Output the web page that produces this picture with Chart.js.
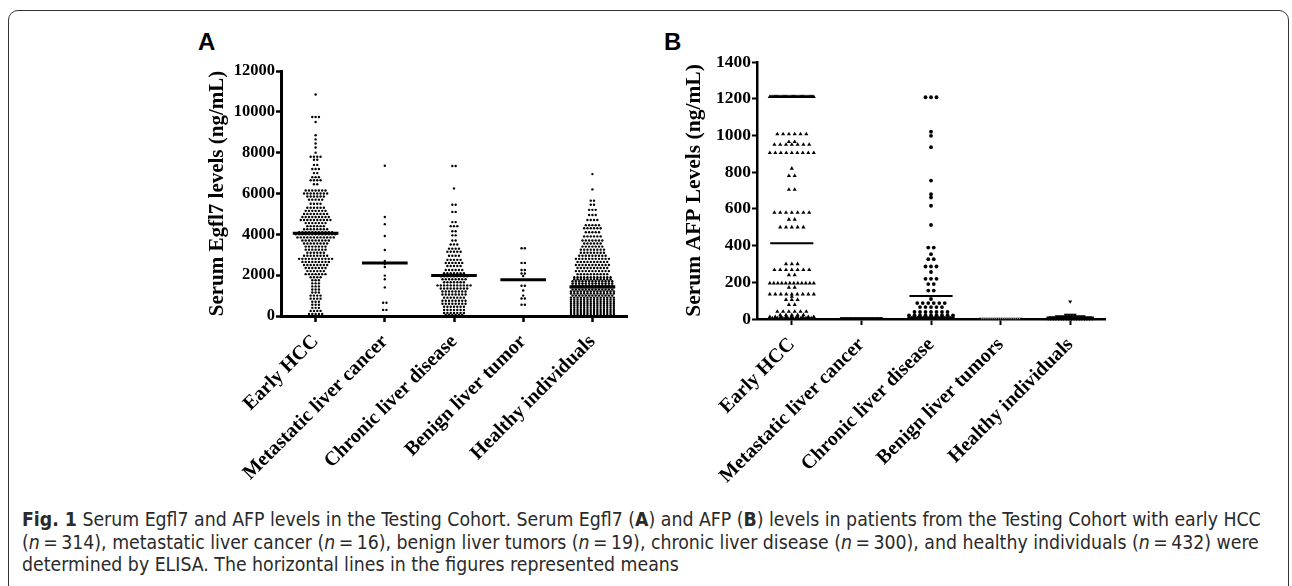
<!DOCTYPE html>
<html lang="en">
<head>
<meta charset="UTF-8">
<title>Fig. 1 Serum Egfl7 and AFP levels in the Testing Cohort</title>
<style>
  body { margin: 0; background: #fff; width: 1292px; height: 586px; overflow: hidden; position: relative; }
  .frame { position: absolute; left: 8px; top: 10px; width: 1279px; height: 640px; border: 1.5px solid #333; border-radius: 10px; }
  .panel { position: absolute; top: 30px; font-family: "Liberation Sans", Arial, sans-serif; font-weight: bold; font-size: 24px; line-height: 24px; color: #000; }
  canvas { position: absolute; }
  .caption { position: absolute; left: 22px; top: 509px; white-space: nowrap; font-family: "Liberation Sans Narrow", "DejaVu Sans Condensed", sans-serif; font-size: 19.3px; line-height: 22.5px; color: #2a2a2a; }
</style>
</head>
<body>
<div class="frame"></div>
<div class="panel" style="left:198px">A</div>
<div class="panel" style="left:664px">B</div>
<canvas id="chartA" width="460" height="440" style="left:180px; top:50px"></canvas>
<canvas id="chartB" width="460" height="440" style="left:660px; top:50px"></canvas>
<div class="caption"><b>Fig. 1</b> Serum Egfl7 and AFP levels in the Testing Cohort. Serum Egfl7 (<b>A</b>) and AFP (<b>B</b>) levels in patients from the Testing Cohort with early HCC<br>(<i>n</i>&thinsp;=&thinsp;314), metastatic liver cancer (<i>n</i>&thinsp;=&thinsp;16), benign liver tumors (<i>n</i>&thinsp;=&thinsp;19), chronic liver disease (<i>n</i>&thinsp;=&thinsp;300), and healthy individuals (<i>n</i>&thinsp;=&thinsp;432) were<br>determined by ELISA. The horizontal lines in the figures represented means</div>

<script src="https://cdn.jsdelivr.net/npm/chart.js"></script>
<script>
// categories
const groupsA = ['Early HCC', 'Metastatic liver cancer', 'Chronic liver disease', 'Benign liver tumor', 'Healthy individuals'];
const groupsB = ['Early HCC', 'Metastatic liver cancer', 'Chronic liver disease', 'Benign liver tumors', 'Healthy individuals'];
const ticksA = [0, 2000, 4000, 6000, 8000, 10000, 12000];
const ticksB = [0, 200, 400, 600, 800, 1000, 1200, 1400];

// each row: [value, number of dots sitting at that value]
// panel A - Egfl7 (ng/mL)
const egflEarlyHcc = [
  [10850, 1], [9750, 3], [9500, 1], [8850, 1], [8650, 1], [8450, 1], [8250, 1], [8000, 1],
  [7800, 4], [7650, 2], [7400, 2], [7200, 3], [7000, 2], [6800, 3], [6650, 4], [6450, 2],
  [6150, 7], [6000, 8], [5850, 6], [5700, 5], [5500, 4], [5300, 6], [5150, 7], [5000, 8],
  [4850, 9], [4700, 10], [4550, 7], [4400, 6], [4250, 8], [4100, 11], [4000, 13], [3850, 12],
  [3700, 9], [3550, 8], [3400, 7], [3250, 7], [3100, 6], [2950, 8], [2800, 11], [2650, 9],
  [2500, 8], [2350, 7], [2200, 6], [2050, 7], [1900, 4], [1750, 3], [1600, 3], [1450, 3],
  [1300, 3], [1150, 3], [1000, 4], [850, 4], [700, 3], [550, 3], [400, 3], [250, 4], [100, 5]
];
const egflMetastatic = [
  [7360, 1], [4850, 1], [4500, 1], [3920, 1], [3230, 1], [2700, 1], [2550, 1], [2400, 1],
  [1980, 1], [1800, 1], [1400, 1], [650, 2], [300, 2]
];
const egflChronic = [
  [7350, 2], [6250, 1], [5450, 2], [5100, 2], [4600, 2], [4400, 3], [4150, 2], [3950, 2],
  [3700, 2], [3500, 3], [3300, 4], [3150, 5], [2950, 4], [2750, 5], [2600, 6], [2450, 5],
  [2250, 6], [2100, 7], [1950, 9], [1800, 8], [1650, 7], [1500, 11], [1350, 9], [1200, 8],
  [1050, 8], [900, 7], [750, 8], [600, 8], [450, 7], [300, 7], [150, 7], [50, 6]
];
const egflBenign = [
  [3320, 2], [2600, 2], [2250, 2], [2080, 2], [1960, 1], [1480, 2], [1250, 1], [1000, 1],
  [860, 2], [550, 2]
];
const egflHealthy = [
  [6950, 1], [6200, 1], [5650, 2], [5450, 2], [5200, 3], [4950, 3], [4700, 4], [4450, 5],
  [4300, 6], [4100, 5], [3900, 6], [3700, 7], [3550, 6], [3400, 7], [3250, 8], [3100, 8],
  [2950, 9], [2800, 11], [2650, 10], [2500, 11], [2350, 10], [2200, 11], [2050, 10], [1900, 12],
  [1800, 12], [1700, 13], [1600, 13], [1500, 13], [1400, 14], [1300, 13], [1200, 14], [1100, 14],
  [1000, 13], [900, 14], [800, 14], [700, 14], [600, 14], [500, 14], [400, 14], [300, 14],
  [200, 14], [100, 14], [20, 14]
];
const egflMeans = [4050, 2600, 1980, 1780, 1430];

// panel B - AFP (ng/mL)
const afpEarlyHcc = [
  [1210, 40], [1007, 6], [965, 2], [950, 7], [905, 9], [820, 1], [780, 2], [705, 2],
  [580, 7], [542, 2], [500, 5], [300, 3], [268, 7], [240, 2], [195, 12], [172, 2],
  [135, 9], [122, 1], [105, 3], [78, 2], [40, 6], [22, 5], [12, 9], [4, 18]
];
const afpMetastatic = [[4, 16]];
const afpChronic = [
  [1208, 3], [1020, 1], [998, 1], [936, 1], [754, 1], [680, 1], [662, 1], [617, 1],
  [512, 1], [389, 2], [353, 1], [326, 2], [286, 3], [256, 1], [219, 3], [190, 2],
  [155, 2], [109, 1], [87, 6], [65, 5], [38, 7], [20, 9], [6, 16]
];
const afpBenign = [[2, 19]];
const afpHealthy = [[95, 1], [22, 4], [14, 10], [7, 16], [2, 18]];
const afpMeans = [412, 4, 125, 1, 8];

const serif = '"Liberation Serif", "Times New Roman", serif';

// spread the dots of a row sideways around the category centre (scatter dot plot)
function swarm(rows, cat, gapPx, maxPx, pxPerUnit) {
  const pts = [];
  rows.forEach(([v, n]) => {
    const gap = n > 1 ? Math.min(gapPx, maxPx / (n - 1)) : 0;
    for (let k = 0; k < n; k++) {
      pts.push({ x: cat + (k - (n - 1) / 2) * gap / pxPerUnit, y: v });
    }
  });
  return pts;
}

function meanLines(means, half, width) {
  return means.map((m, i) => ({
    data: [{ x: i - half, y: m }, { x: i + half, y: m }],
    showLine: true, borderColor: '#000', borderWidth: width, pointRadius: 0, clip: false
  }));
}

function dots(data, style) {
  return Object.assign({ data: data, backgroundColor: '#000', borderColor: '#000', borderWidth: 0, clip: false }, style);
}

function makeChart(id, cats, yTicks, datasets, cfg) {
  new Chart(document.getElementById(id), {
    type: 'scatter',
    data: { datasets: datasets },
    options: {
      responsive: false,
      animation: false,
      devicePixelRatio: 1,
      layout: { padding: { left: 0, top: cfg.top, right: cfg.right, bottom: 0 } },
      plugins: { legend: { display: false }, tooltip: { enabled: false } },
      scales: {
        x: {
          type: 'linear', min: -0.5, max: 4.5,
          afterBuildTicks: s => { s.ticks = cats.map((c, i) => ({ value: i })); },
          afterFit: s => { s.height = cfg.xh; s.paddingLeft = 0; s.paddingRight = 0; },
          ticks: {
            autoSkip: false, minRotation: 45, maxRotation: 45, padding: cfg.xpad, color: '#000',
            font: { family: serif, weight: 'bold', size: 20 },
            callback: (v, i) => cats[i]
          },
          grid: { drawOnChartArea: false, tickLength: 6, tickWidth: cfg.axisW - 0.5, tickColor: '#000' },
          border: { color: '#000', width: cfg.axisW }
        },
        y: {
          min: 0, max: yTicks[yTicks.length - 1],
          afterBuildTicks: s => { s.ticks = yTicks.map(v => ({ value: v })); },
          afterFit: s => { s.width = cfg.yw; s.paddingTop = 0; s.paddingBottom = 0; },
          ticks: {
            color: '#000', padding: 1, font: { family: serif, weight: 'bold', size: cfg.tickSize },
            callback: v => String(v)
          },
          grid: { drawOnChartArea: false, tickLength: 5, tickWidth: cfg.axisW - 0.5, tickColor: '#000' },
          border: { color: '#000', width: cfg.axisW },
          title: {
            display: true, text: cfg.title, color: '#000',
            font: { family: serif, weight: 'bold', size: cfg.titleSize },
            padding: { top: cfg.titlePad, bottom: 0 }
          }
        }
      }
    }
  });
}

// panel A
const pxA = 346 / 5;
const rowsA = [egflEarlyHcc, egflMetastatic, egflChronic, egflBenign, egflHealthy];
const setsA = rowsA.map((rows, i) => dots(swarm(rows, i, 3.3, 44, pxA), { pointStyle: 'circle', pointRadius: 1.2 }));
makeChart('chartA', groupsA, ticksA, setsA.concat(meanLines(egflMeans, 0.33, 3)), {
  top: 21, right: 13, yw: 101, xh: 174, xpad: 8, axisW: 3, tickSize: 16.5,
  title: 'Serum Egfl7 levels (ng/mL)', titleSize: 21, titlePad: 25
});

// panel B
const pxB = 348 / 5;
const setsB = [
  dots(swarm(afpEarlyHcc, 0, 5.8, 44, pxB), { pointStyle: 'triangle', pointRadius: 2.4 }),
  dots(swarm(afpMetastatic, 1, 2.6, 40, pxB), { pointStyle: 'rect', pointRadius: 1.4 }),
  dots(swarm(afpChronic, 2, 5.5, 44, pxB), { pointStyle: 'circle', pointRadius: 1.9 }),
  dots(swarm(afpBenign, 3, 2.1, 40, pxB), { pointStyle: 'rect', pointRadius: 0.9, backgroundColor: '#888', borderColor: '#888' }),
  dots(swarm(afpHealthy, 4, 3, 44, pxB), { pointStyle: 'triangle', pointRadius: 2.3, rotation: 180 })
];
makeChart('chartB', groupsB, ticksB, setsB.concat(meanLines(afpMeans, 0.31, 2)), {
  top: 12, right: 15, yw: 97, xh: 171, xpad: 8, axisW: 2.5, tickSize: 17.5,
  title: 'Serum AFP Levels (ng/mL)', titleSize: 21.5, titlePad: 22
});
</script>
</body>
</html>
